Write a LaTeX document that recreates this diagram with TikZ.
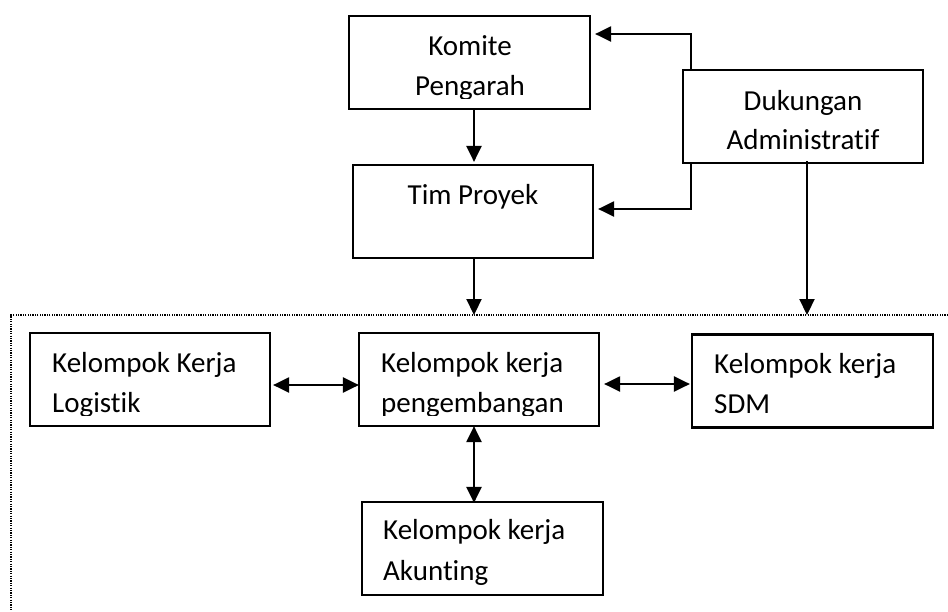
\documentclass[tikz,border=0pt]{standalone}
\usepackage{fontspec}
\setmainfont{Carlito}[Ligatures={NoCommon}]
\usetikzlibrary{arrows.meta}
\tikzset{
  box/.style={draw=black, line width=2.2pt, inner sep=0pt, minimum width=241pt, minimum height=93pt},
  lbl/.style={inner sep=0pt, font=\fontsize{29}{40}\selectfont},
  conn/.style={line width=2.2pt, -{Triangle[length=16pt,width=15pt]}},
  dconn/.style={line width=2.2pt, {Triangle[length=16pt,width=15pt]}-{Triangle[length=16pt,width=15pt]}},
  frame/.style={line width=1.2pt, dash pattern=on 1.2pt off 1.2pt}
}
\begin{document}
\begin{tikzpicture}[x=1pt,y=-1pt]
\useasboundingbox (0,0) rectangle (948,611);
% boxes
\node[box] (komite) at (469.5,62.5) {};
\node[box, minimum width=240pt] (tim) at (473,211.5) {};
\node[box, minimum width=240pt] (duk) at (803,116.5) {};
\node[box, minimum width=240pt] (log) at (150,379.5) {};
\node[box, minimum width=240pt] (peng) at (479,379.5) {};
\node[box] (sdm) at (812.5,381) {};
\node[box] (akun) at (482.5,548.5) {};
% texts
\begin{scope}
\clip (349,16) rectangle (590,98);
\node[lbl, anchor=base] (komiteA) at (470,55) {Komite};
\node[lbl, anchor=base] (komiteB) at (470,95) {Pengarah};
\end{scope}
\node[lbl, anchor=base] (timA) at (473,204) {Tim Proyek};
\node[lbl, anchor=base] (dukA) at (803,110) {Dukungan};
\node[lbl, anchor=base] (dukB) at (803,149) {Administratif};
\begin{scope}
\clip (30,333) rectangle (270,415);
\node[lbl, anchor=base west] (logA) at (52,372) {Kelompok Kerja};
\node[lbl, anchor=base west] (logB) at (52,412) {Logistik};
\end{scope}
\begin{scope}
\clip (359,333) rectangle (599,415);
\node[lbl, anchor=base west] (pengA) at (381,372) {Kelompok kerja};
\node[lbl, anchor=base west] (pengB) at (381,412) {pengembangan};
\end{scope}
\node[lbl, anchor=base west] (sdmA) at (714,373) {Kelompok kerja};
\node[lbl, anchor=base west] (sdmB) at (714,413) {SDM};
\begin{scope}
\clip (362,502) rectangle (603,584);
\node[lbl, anchor=base west] (akunA) at (383,539) {Kelompok kerja};
\node[lbl, anchor=base west] (akunB) at (383,580) {Akunting};
\end{scope}
% dotted frame
\coordinate (fc) at (11,315);
\draw[frame] (948,315) -- (fc) -- (11,611);
% connectors
\coordinate (b1) at (691,34);
\coordinate (b2) at (691,209);
\draw[conn] (duk.north -| b1) -- (b1) -- ([xshift=4pt]komite.east |- b1);
\draw[conn] (duk.south -| b2) -- (b2) -- ([xshift=4pt]tim.east |- b2);
\coordinate (v1) at (474,0);
\draw[conn] (komite.south -| v1) -- ([yshift=2pt]tim.north -| v1);
\coordinate (t1) at (474,315);
\draw[conn] (tim.south -| t1) -- (t1);
\coordinate (t2) at (807,315);
\draw[conn] ([yshift=3pt]duk.south -| t2) -- (t2);
\coordinate (h1) at (0,385);
\draw[dconn] ([xshift=2pt]log.east |- h1) -- ([xshift=1pt]peng.west |- h1);
\coordinate (h2) at (0,384);
\draw[dconn] ([xshift=4pt]peng.east |- h2) -- ([xshift=-1pt]sdm.west |- h2);
\draw[dconn] ([yshift=1pt]peng.south -| v1) -- ([yshift=-2pt]akun.north -| v1);
\end{tikzpicture}
\end{document}
